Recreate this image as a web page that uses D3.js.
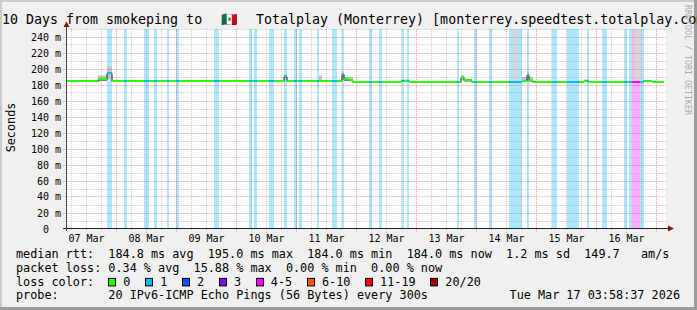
<!DOCTYPE html>
<html lang="en">
<head>
<meta charset="UTF-8">
<title>smokeping - Totalplay (Monterrey)</title>
<style>
  body { margin: 0; background: #f0f0f0; overflow: hidden; }
  svg { display: block; }
  text { font-family: "DejaVu Sans Mono", monospace; fill: #000; }
</style>
</head>
<body>
<script src="https://cdn.jsdelivr.net/npm/d3@7"></script>
<script>
// graph window: 10 days ending at the stamp shown in the legend
const endTime = new Date("2026-03-17T03:58:37Z");
const startTime = new Date(endTime.getTime() - 10 * 864e5);

const lossLabels = ["0", "1", "2", "3", "4-5", "6-10", "11-19", "20/20"];
const lossColors = ["#26ff00", "#00b8ff", "#0059ff", "#7e00ff", "#ff00ff", "#ff5500", "#ff0000", "#a10000"];

// median rtt in ms, step values starting at the given time
const medianSteps = [
  ["2026-03-07T03:58Z", 185], ["2026-03-07T16:24Z", 187], ["2026-03-07T20:00Z", 195],
  ["2026-03-07T22:00Z", 185], ["2026-03-10T18:48Z", 191], ["2026-03-10T20:00Z", 185],
  ["2026-03-11T18:00Z", 194], ["2026-03-11T18:48Z", 187], ["2026-03-11T20:48Z", 186],
  ["2026-03-11T22:24Z", 184], ["2026-03-12T17:36Z", 185.5], ["2026-03-12T21:12Z", 184],
  ["2026-03-13T17:36Z", 190], ["2026-03-13T18:48Z", 186], ["2026-03-13T22:00Z", 184],
  ["2026-03-14T18:00Z", 185.5], ["2026-03-14T20:00Z", 193], ["2026-03-14T20:48Z", 186],
  ["2026-03-14T22:24Z", 184], ["2026-03-15T18:48Z", 185], ["2026-03-15T20:48Z", 184],
  ["2026-03-16T18:24Z", 185], ["2026-03-16T22:00Z", 184]
];
const medianEnd = "2026-03-17T02:48Z";

// periods with packet loss: start, end, index into lossLabels
const lossEvents = [
  ["2026-03-07T20:00Z", "2026-03-07T22:00Z", 1], ["2026-03-08T02:48Z", "2026-03-08T04:00Z", 1],
  ["2026-03-08T10:48Z", "2026-03-08T12:48Z", 1], ["2026-03-08T14:48Z", "2026-03-08T16:00Z", 1],
  ["2026-03-08T20:00Z", "2026-03-08T20:48Z", 1], ["2026-03-08T23:36Z", "2026-03-09T00:48Z", 1],
  ["2026-03-09T14:48Z", "2026-03-09T16:48Z", 1], ["2026-03-10T04:48Z", "2026-03-10T06:00Z", 1],
  ["2026-03-10T06:48Z", "2026-03-10T08:00Z", 1], ["2026-03-10T12:48Z", "2026-03-10T14:48Z", 1],
  ["2026-03-10T18:48Z", "2026-03-10T20:00Z", 1], ["2026-03-10T22:48Z", "2026-03-11T00:00Z", 1],
  ["2026-03-11T00:48Z", "2026-03-11T02:00Z", 1], ["2026-03-11T08:00Z", "2026-03-11T08:48Z", 1],
  ["2026-03-11T14:00Z", "2026-03-11T16:00Z", 1], ["2026-03-11T18:00Z", "2026-03-11T18:48Z", 1],
  ["2026-03-12T04:48Z", "2026-03-12T06:00Z", 1], ["2026-03-12T08:48Z", "2026-03-12T10:00Z", 1],
  ["2026-03-12T18:00Z", "2026-03-12T18:48Z", 1], ["2026-03-12T20:00Z", "2026-03-12T20:48Z", 1],
  ["2026-03-13T16:00Z", "2026-03-13T16:48Z", 1], ["2026-03-13T22:48Z", "2026-03-14T00:00Z", 1],
  ["2026-03-14T04:48Z", "2026-03-14T06:00Z", 1], ["2026-03-14T12:48Z", "2026-03-14T18:00Z", 1],
  ["2026-03-14T20:00Z", "2026-03-14T20:48Z", 1], ["2026-03-15T06:00Z", "2026-03-15T08:00Z", 1],
  ["2026-03-15T12:00Z", "2026-03-15T16:48Z", 1], ["2026-03-15T20:00Z", "2026-03-15T20:48Z", 1],
  ["2026-03-16T02:00Z", "2026-03-16T04:00Z", 1], ["2026-03-16T10:48Z", "2026-03-16T12:00Z", 1],
  ["2026-03-16T12:48Z", "2026-03-16T14:00Z", 1], ["2026-03-16T14:00Z", "2026-03-16T17:12Z", 4],
  ["2026-03-16T17:12Z", "2026-03-16T18:48Z", 1]
];

// smoke (spread of the single pings): start, end, low ms, high ms
const smoke = [
  ["2026-03-07T16:24Z", "2026-03-07T20:00Z", 185, 192], ["2026-03-07T20:00Z", "2026-03-07T22:00Z", 188, 203],
  ["2026-03-10T18:48Z", "2026-03-10T20:00Z", 186, 194], ["2026-03-11T08:48Z", "2026-03-11T10:00Z", 185, 192],
  ["2026-03-11T18:00Z", "2026-03-11T18:48Z", 188, 197], ["2026-03-11T18:48Z", "2026-03-11T22:24Z", 185, 190],
  ["2026-03-12T17:36Z", "2026-03-12T21:12Z", 184, 187], ["2026-03-13T17:36Z", "2026-03-13T18:48Z", 186, 192],
  ["2026-03-13T18:48Z", "2026-03-13T22:00Z", 184, 188], ["2026-03-14T14:36Z", "2026-03-14T16:12Z", 184, 260],
  ["2026-03-14T18:00Z", "2026-03-14T22:24Z", 184, 190], ["2026-03-14T20:00Z", "2026-03-14T20:48Z", 188, 197],
  ["2026-03-15T18:48Z", "2026-03-15T20:48Z", 184, 187], ["2026-03-16T14:48Z", "2026-03-16T17:36Z", 184, 260]
];

const legendRows = [
  "median rtt:  184.8 ms avg  195.0 ms max  184.0 ms min  184.0 ms now  1.2 ms sd  149.7   am/s",
  "packet loss: 0.34 % avg  15.88 % max  0.00 % min  0.00 % now"
];
const probeText = "probe:       20 IPv6-ICMP Echo Pings (56 Bytes) every 300s";
const stampText = "Tue Mar 17 03:58:37 2026";

const width = 697, height = 310;
const plotLeft = 66.5, plotRight = 666.5, plotTop = 29, plotBottom = 229;
const charW = 7.09;

const svg = d3.select("body").append("svg").attr("width", width).attr("height", height);

// frame shading
svg.append("rect").attr("width", width).attr("height", height).attr("fill", "#f0f0f0");
svg.append("path").attr("d", `M0,0H${width}V2H2V${height}H0Z`).attr("fill", "#cbcbcb");
svg.append("path").attr("d", `M${width},${height}H0V${height - 3}H${width - 3}V0H${width}Z`).attr("fill", "#9c9c9c");

const x = d3.scaleUtc().domain([startTime, endTime]).range([plotLeft, plotRight]);
const y = d3.scaleLinear().domain([0, 250]).range([plotBottom, plotTop]);
const px = v => Math.floor(v) + 0.5;

svg.append("rect").attr("x", 66).attr("y", plotTop).attr("width", 600).attr("height", plotBottom - plotTop).attr("fill", "#fff");

const plot = svg.append("g");

// loss background bars
plot.selectAll("rect.loss").data(lossEvents).enter().append("rect")
  .attr("class", "loss")
  .attr("x", d => Math.round(x(new Date(d[0]))))
  .attr("width", d => Math.round(x(new Date(d[1]))) - Math.round(x(new Date(d[0]))))
  .attr("y", plotTop).attr("height", plotBottom - plotTop)
  .attr("fill", d => lossColors[d[2]]).attr("fill-opacity", 0.33);

// smoke
plot.selectAll("rect.smoke").data(smoke).enter().append("rect")
  .attr("class", "smoke")
  .attr("x", d => Math.round(x(new Date(d[0]))))
  .attr("width", d => Math.round(x(new Date(d[1]))) - Math.round(x(new Date(d[0]))))
  .attr("y", d => Math.max(plotTop, y(d[3])))
  .attr("height", d => y(d[2]) - Math.max(plotTop, y(d[3])))
  .attr("fill", d => d[3] > 250 ? "#d6d6d6" : "#c4c4c4");

// grid
const minorX = d3.utcHour.every(6).range(startTime, endTime).filter(d => d.getUTCHours() !== 0);
const majorX = d3.utcDay.range(startTime, endTime);
const minorY = y.ticks(25).filter(d => d % 20 !== 0);
const majorY = y.ticks(12).filter(d => d > 0);
const grid = svg.append("g").attr("stroke-dasharray", "1,1").attr("stroke-width", 1);
grid.selectAll("line.mx").data(minorX).enter().append("line")
  .attr("x1", d => px(x(d))).attr("x2", d => px(x(d))).attr("y1", plotTop).attr("y2", plotBottom + 2)
  .attr("stroke", "rgba(160,160,160,0.55)");
grid.selectAll("line.my").data(minorY).enter().append("line")
  .attr("x1", plotLeft - 3).attr("x2", plotRight).attr("y1", d => px(y(d))).attr("y2", d => px(y(d)))
  .attr("stroke", "rgba(160,160,160,0.55)");
grid.selectAll("line.Mx").data(majorX).enter().append("line")
  .attr("x1", d => px(x(d))).attr("x2", d => px(x(d))).attr("y1", plotTop).attr("y2", plotBottom + 3)
  .attr("stroke", "rgba(240,40,40,0.45)");
grid.selectAll("line.My").data(majorY).enter().append("line")
  .attr("x1", plotLeft - 4).attr("x2", plotRight).attr("y1", d => px(y(d))).attr("y2", d => px(y(d)))
  .attr("stroke", "rgba(240,40,40,0.45)");

// median: thin dark step line, then thick loss-coloured segments
const medianPts = medianSteps.map(d => [new Date(d[0]), d[1]]);
medianPts.push([new Date(medianEnd), medianSteps[medianSteps.length - 1][1]]);
svg.append("path")
  .attr("d", d3.line().x(d => Math.round(x(d[0]))).y(d => y(d[1]) + 0.5).curve(d3.curveStepAfter)(medianPts))
  .attr("fill", "none").attr("stroke", "#202020").attr("stroke-width", 1);

const cuts = Array.from(new Set(medianPts.map(d => +d[0])
  .concat(lossEvents.flatMap(d => [+new Date(d[0]), +new Date(d[1])]))))
  .filter(t => t >= +medianPts[0][0] && t <= +medianPts[medianPts.length - 1][0])
  .sort((a, b) => a - b);
const segs = [];
for (let i = 0; i < cuts.length - 1; i++) {
  const t = cuts[i];
  const m = medianPts.filter(d => +d[0] <= t).pop()[1];
  const ev = lossEvents.find(d => +new Date(d[0]) <= t && t < +new Date(d[1]));
  segs.push({t0: t, t1: cuts[i + 1], m: m, level: ev ? ev[2] : 0});
}
svg.append("g").selectAll("rect").data(segs).enter().append("rect")
  .attr("x", d => Math.round(x(new Date(d.t0))))
  .attr("width", d => Math.round(x(new Date(d.t1))) - Math.round(x(new Date(d.t0))))
  .attr("y", d => Math.round(y(d.m)) - 1).attr("height", 2)
  .attr("fill", d => lossColors[d.level]);

// axes
svg.append("line").attr("x1", 63).attr("x2", 670).attr("y1", 228.5).attr("y2", 228.5).attr("stroke", "#202020");
svg.append("line").attr("x1", 66.5).attr("x2", 66.5).attr("y1", 231).attr("y2", 25).attr("stroke", "#404040");
svg.append("path").attr("d", "M66.5,21.5L69.5,27L63.5,27Z").attr("fill", "#8b1010");
svg.append("path").attr("d", "M674,228.5L668,225.5L668,231.5Z").attr("fill", "#8b1010");

// tick labels
svg.append("g").selectAll("text").data(y.ticks(12)).enter().append("text")
  .attr("xml:space", "preserve")
  .attr("x", 61).attr("y", d => px(y(d)) + 3.5)
  .attr("text-anchor", "end").attr("font-size", "10px")
  .text(d => d === 0 ? "0  " : d + " m");

const noonTicks = d3.utcDay.range(d3.utcDay.floor(startTime), endTime)
  .map(d => d3.utcHour.offset(d, 12)).filter(d => d >= startTime && d <= endTime);
svg.append("g").selectAll("text").data(noonTicks).enter().append("text")
  .attr("x", d => x(d)).attr("y", 241.5)
  .attr("text-anchor", "middle").attr("font-size", "10px")
  .text(d3.utcFormat("%d %b"));

svg.append("text").attr("transform", "translate(15,127.5) rotate(-90)")
  .attr("text-anchor", "middle").attr("font-size", "11.8px").text("Seconds");

// title (clipped by the right edge, as in the original)
svg.append("text").attr("x", 2).attr("y", 24).attr("font-size", "13.3px").text("10 Days from smokeping to");
svg.append("text").attr("x", 229).attr("y", 24).attr("text-anchor", "middle").attr("font-size", "13.3px").text("\u{1F1F2}\u{1F1FD}");
svg.append("text").attr("x", 256).attr("y", 24).attr("font-size", "13.3px")
  .text("Totalplay (Monterrey) [monterrey.speedtest.totalplay.com.mx]");

svg.append("text").attr("transform", "translate(685,5) rotate(90)")
  .attr("font-size", "8.3px").style("fill", "#ababab").text("RRDTOOL / TOBI OETIKER");

// legend
const rowY = [258.3, 271.8, 285.6, 299.1];
svg.append("g").selectAll("text").data(legendRows).enter().append("text")
  .attr("xml:space", "preserve").attr("x", 16).attr("y", (d, i) => rowY[i])
  .attr("font-size", "11.8px").text(d => d);
svg.append("text").attr("x", 16).attr("y", rowY[2]).attr("font-size", "11.8px").text("loss color:");

let sx = 108.3;
const swatches = lossLabels.map((label, i) => {
  const s = {label: label, color: lossColors[i], x: sx};
  sx += 15 + label.length * charW + 14.8;
  return s;
});
const sw = svg.append("g").selectAll("g").data(swatches).enter().append("g");
sw.append("rect").attr("x", d => Math.round(d.x) + 0.5).attr("y", rowY[2] - 7.2)
  .attr("width", 7).attr("height", 7.5)
  .attr("fill", d => d.color).attr("stroke", "#000");
sw.append("text").attr("x", d => d.x + 15).attr("y", rowY[2]).attr("font-size", "11.8px").text(d => d.label);

svg.append("text").attr("xml:space", "preserve").attr("x", 16).attr("y", rowY[3]).attr("font-size", "11.8px").text(probeText);
svg.append("text").attr("x", 680).attr("y", rowY[3]).attr("text-anchor", "end").attr("font-size", "11.8px").text(stampText);
</script>
</body>
</html>
